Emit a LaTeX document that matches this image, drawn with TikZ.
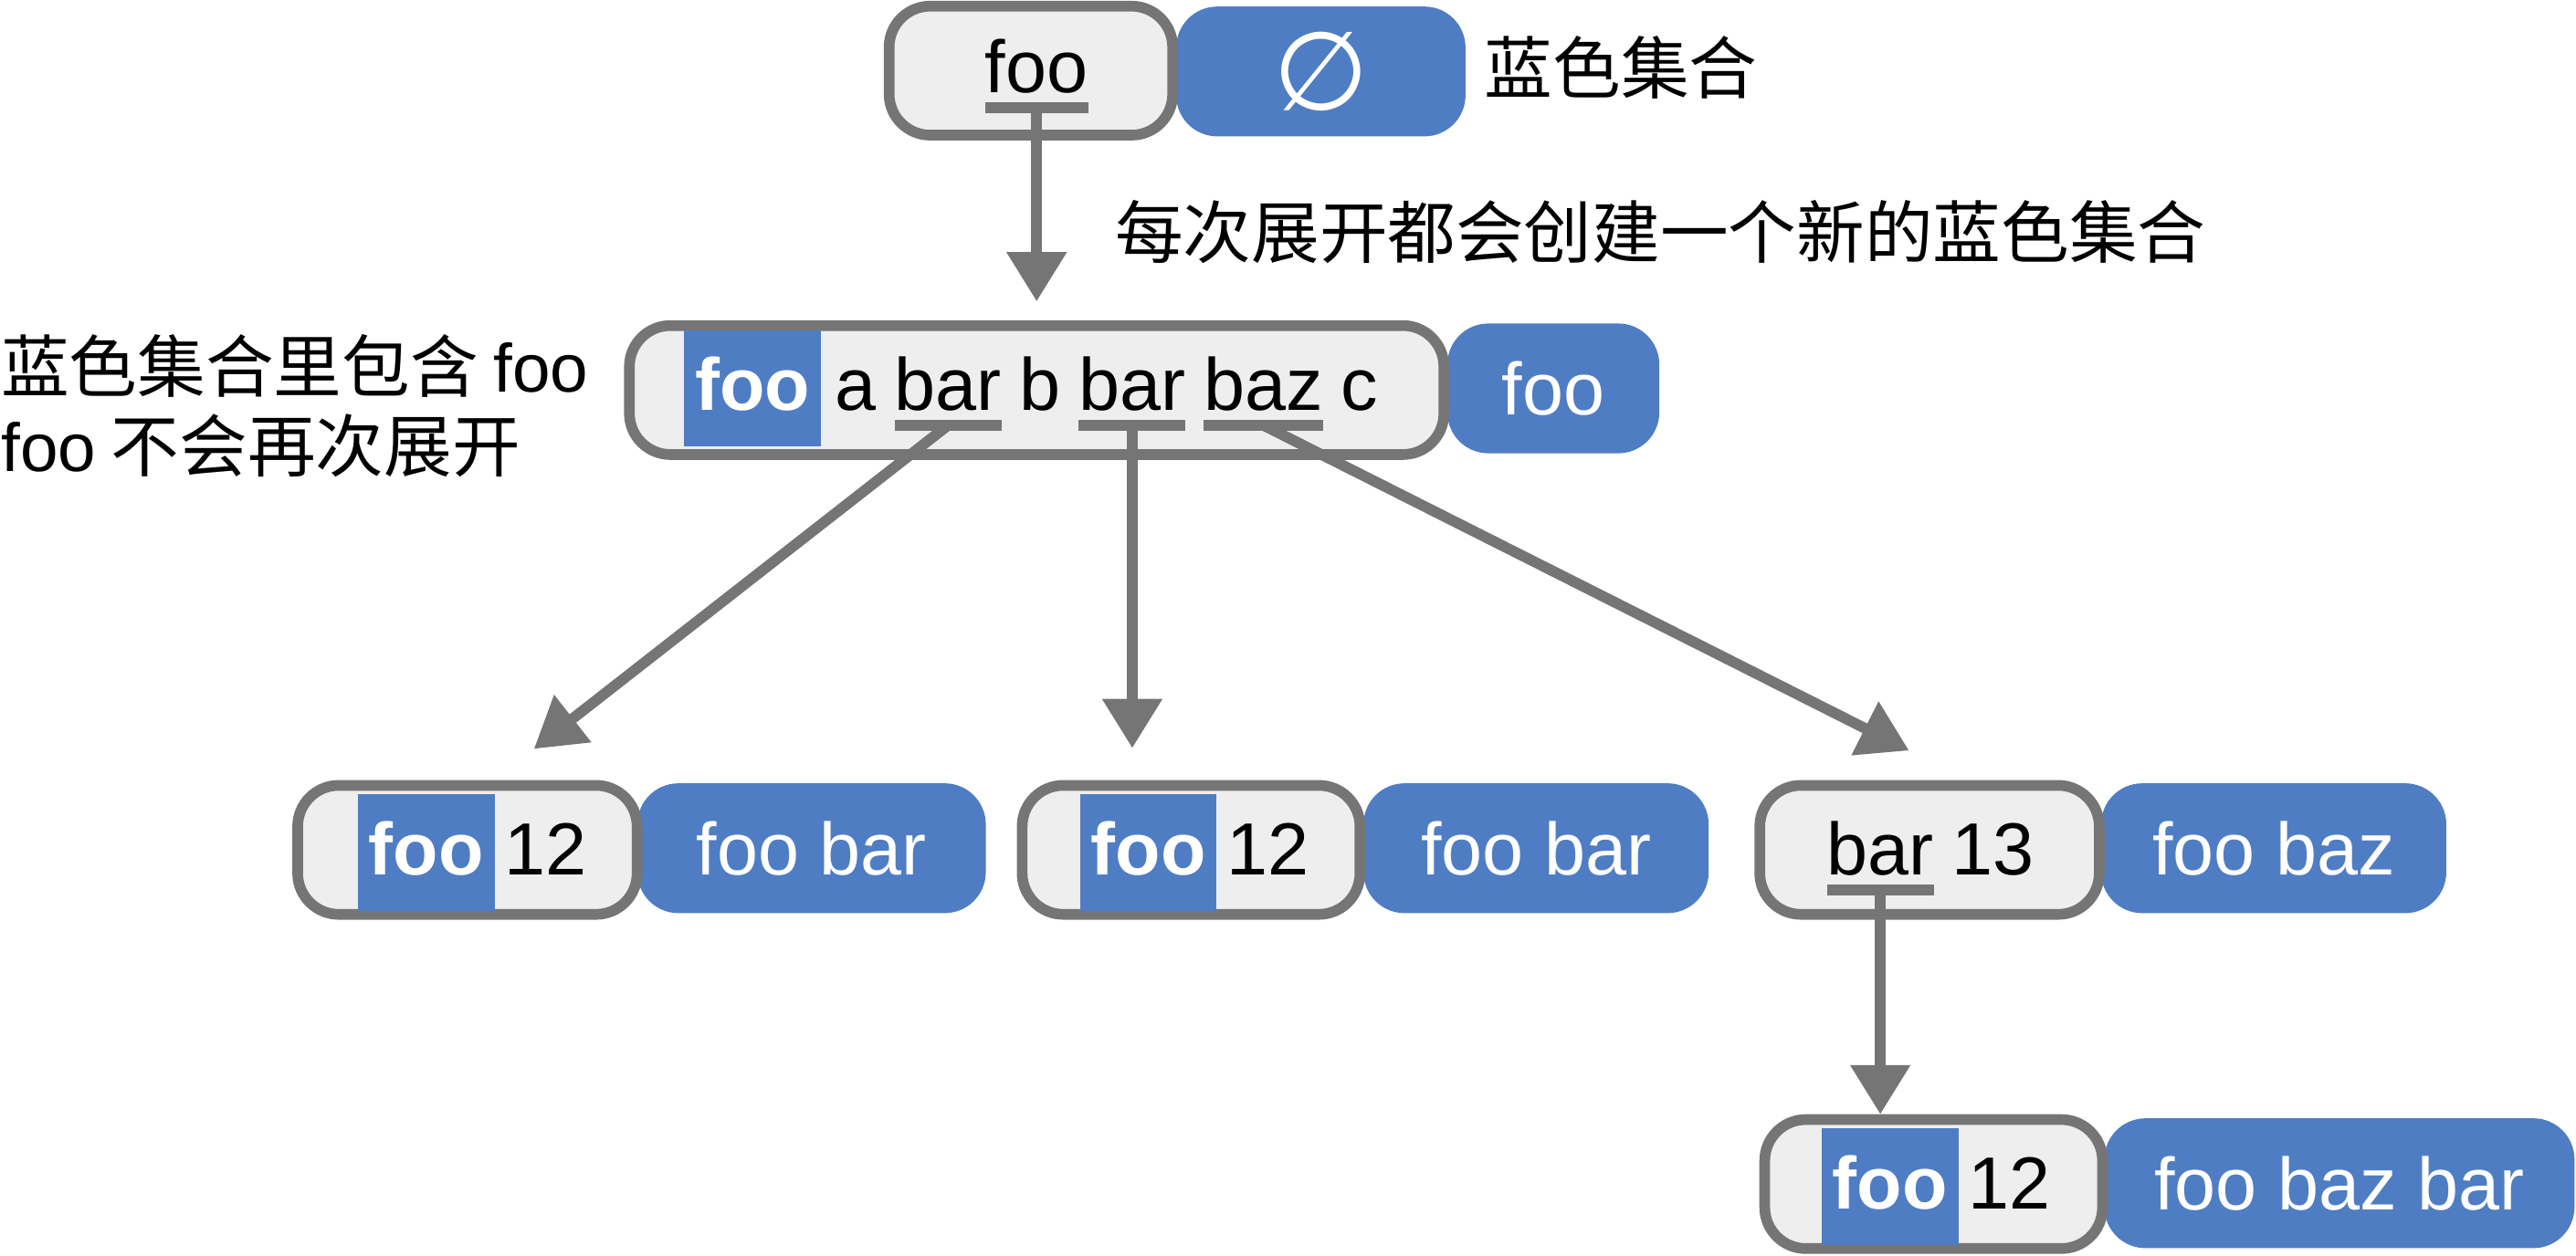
\documentclass[tikz,border=0pt]{standalone}
\usepackage{fontspec}
\setmainfont{Liberation Sans}
\newfontfamily\cjk{Noto Sans CJK SC}
\newfontfamily\dejavu{DejaVu Sans}
\usetikzlibrary{arrows.meta, positioning}

\definecolor{exprgray}{RGB}{117,117,117}
\definecolor{exprfill}{RGB}{238,238,238}
\definecolor{setblue}{RGB}{79,125,196}

\begin{document}
\begin{tikzpicture}[
  x = 0.01cm,
  y = -0.01cm,
  node distance = 0.11cm,
  expr/.style = {
    shape = rectangle,
    rounded corners = 0.25cm,
    draw = exprgray,
    fill = exprfill,
    line width = 0.065cm,
    minimum height = 0.785cm,
    inner sep = 0pt,
  },
  blueset/.style = {
    shape = rectangle,
    rounded corners = 0.25cm,
    fill = setblue,
    text = white,
    minimum height = 0.79cm,
    inner sep = 0pt,
    font = \fontsize{12.8}{12.8}\selectfont,
  },
  hidden/.style = {
    shape = rectangle,
    fill = setblue,
    text = white,
    minimum width = 0.83cm,
    text height = 0.49cm,
    text depth = 0.22cm,
    inner sep = 0pt,
    outer sep = 0pt,
    font = \fontsize{12.8}{12.8}\selectfont\bfseries,
  },
  word/.style = {
    inner sep = 0pt,
    outer sep = 0pt,
    font = \fontsize{12.8}{12.8}\selectfont,
  },
  note/.style = {
    inner sep = 0pt,
    anchor = west,
    font = \cjk\fontsize{11.8}{13.7}\selectfont,
  },
  uline/.style = {
    draw = exprgray,
    line width = 0.065cm,
  },
  flow/.style = {
    draw = exprgray,
    line width = 0.065cm,
    -{Triangle[width = 0.35cm, length = 0.3cm]},
  },
]
  \useasboundingbox (0, 0) rectangle (1568, 764.3);

  \node[blueset, minimum width = 1.76cm] (empty) at (804, 43.5) {\dejavu\fontsize{19}{19}\selectfont ∅};
  \node[blueset, minimum width = 1.29cm] (set0) at (945.5, 236.5) {foo};
  \node[blueset, minimum width = 2.12cm] (set1) at (494, 516.5) {foo bar};
  \node[blueset, minimum width = 2.10cm] (set2) at (935, 516.5) {foo bar};
  \node[blueset, minimum width = 2.10cm] (set3) at (1384, 516.5) {foo baz};
  \node[blueset, minimum width = 2.86cm] (set4) at (1424, 720.5) {foo baz bar};

  \node[expr, minimum width = 1.725cm] (top) at (627.5, 43) {};
  \node[expr, minimum width = 4.955cm] (main) at (631, 237.5) {};
  \node[expr, minimum width = 2.065cm] (sub1) at (284.5, 517.5) {};
  \node[expr, minimum width = 2.055cm] (sub2) at (725, 517.5) {};
  \node[expr, minimum width = 2.065cm] (sub3) at (1174.5, 517.5) {};
  \node[expr, minimum width = 2.055cm] (sub4) at (1177, 721) {};

  \node[word, anchor = base] (foo) at (631, 56.5) {foo};

  \node[hidden, anchor = base] (h0) at (458, 250) {foo};
  \node[word, base right = 0.09cm of h0] (a) {a};
  \node[word, base right = of a] (bar1) {bar};
  \node[word, base right = of bar1] (b) {b};
  \node[word, base right = of b] (bar2) {bar};
  \node[word, base right = of bar2] (baz) {baz};
  \node[word, base right = of baz] (c) {c};

  \node[hidden, anchor = base] (h1) at (259.5, 532.5) {foo};
  \node[word, base right = 0.06cm of h1] (n1) {12};
  \node[hidden, anchor = base] (h2) at (699, 532.5) {foo};
  \node[word, base right = 0.06cm of h2] (n2) {12};
  \node[word, anchor = base west] (bar3) at (1112, 533) {bar};
  \node[word, base right = of bar3] (n3) {13};
  \node[hidden, anchor = base] (h4) at (1150.5, 736) {foo};
  \node[word, base right = 0.06cm of h4] (n4) {12};

  \draw[uline] ([yshift = -0.085cm]foo.south west) -- ([yshift = -0.085cm]foo.south east);
  \draw[uline] ([yshift = -0.085cm]bar1.south west) -- ([yshift = -0.085cm]bar1.south east);
  \draw[uline] ([yshift = -0.085cm]bar2.south west) -- ([yshift = -0.085cm]bar2.south east);
  \draw[uline] ([yshift = -0.085cm]baz.south west) -- ([yshift = -0.085cm]baz.south east);
  \draw[uline] ([yshift = -0.085cm]bar3.south west) -- ([yshift = -0.085cm]bar3.south east);

  \coordinate (tip0) at ([yshift = -1.265cm]foo.south);
  \coordinate (tip1) at (325, 456);
  \coordinate (tip2) at ([yshift = -2.05cm]bar2.south);
  \coordinate (tip3) at (1162, 457);
  \coordinate (tip4) at ([yshift = -1.45cm]bar3.south);

  \draw[flow] ([yshift = -0.085cm]foo.south) -- (tip0);
  \draw[flow] ([yshift = -0.085cm]bar1.south) -- (tip1);
  \draw[flow] ([yshift = -0.085cm]bar2.south) -- (tip2);
  \draw[flow] ([yshift = -0.085cm]baz.south) -- (tip3);
  \draw[flow] ([yshift = -0.085cm]bar3.south) -- (tip4);

  \node[note] (label0) at (903, 41) {蓝色集合};
  \node[note] (label1) at (678, 141) {每次展开都会创建一个新的蓝色集合};
  \node[note, align = left] (label2) at (0, 247) {蓝色集合里包含 {\normalfont foo}\\{\normalfont foo} 不会再次展开};
\end{tikzpicture}
\end{document}
